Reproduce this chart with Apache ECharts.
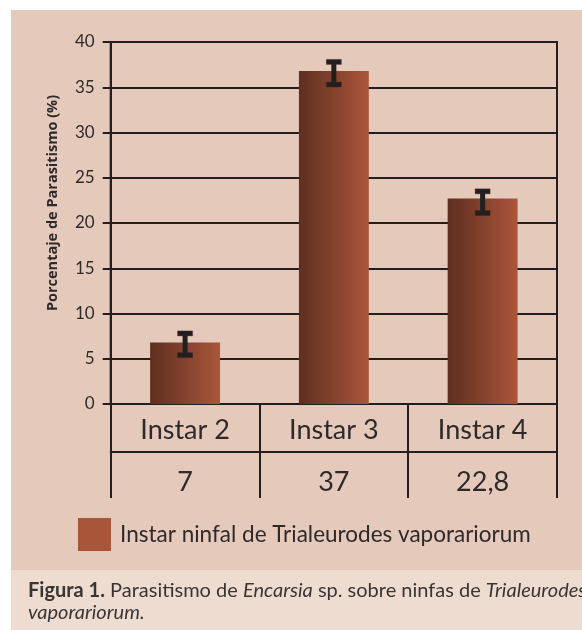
<!DOCTYPE html>
<html>
<head>
<meta charset="utf-8">
<script src="https://cdn.jsdelivr.net/npm/echarts@6/dist/echarts.min.js"></script>
<style>
  html, body { margin: 0; padding: 0; background: #ffffff; }
  #chart { width: 582px; height: 630px; }
</style>
</head>
<body>
<div id="chart"></div>
<script>
var categories = ['Instar 2', 'Instar 3', 'Instar 4'];
var tableValues = ['7', '37', '22,8'];
var parasitism = [6.8, 36.8, 22.7];
var errLow = [5.4, 35.3, 21.1];
var errHigh = [7.8, 37.8, 23.5];
var seriesName = 'Instar ninfal de Trialeurodes vaporariorum';

var ink = '#231f20';
var txt = '#2e2a2a';
var font = 'Lato';
var lineStyle = { color: ink, width: 2 };

var chart = echarts.init(document.getElementById('chart'));

var option = {
    animation: false,
    textStyle: { fontFamily: font },
    graphic: [
        { type: 'rect', z: -100, silent: true, shape: { x: 11, y: 10, width: 571, height: 560 }, style: { fill: '#e5c9bb' } },
        { type: 'rect', z: -100, silent: true, shape: { x: 11, y: 570, width: 571, height: 60 }, style: { fill: '#efdcd0' } },
        // y axis title
        {
            type: 'text', x: 53, y: 203, rotation: Math.PI / 2, silent: true,
            style: {
                text: 'Porcentaje de Parasitismo (%)',
                fontFamily: 'Open Sans', fontSize: 14.5, fontWeight: 'bold', fill: txt,
                align: 'center', verticalAlign: 'middle'
            }
        },
        {
            type: 'text', left: 28, top: 580, silent: true,
            style: {
                text: '{b|Figura 1.} Parasitismo de {i|Encarsia} sp. sobre ninfas de {i|Trialeurodes}\n{i|vaporariorum.}',
                fontFamily: font, fontSize: 20, fill: '#3a3535', lineHeight: 22,
                rich: {
                    b: { fontFamily: font, fontSize: 20, fontWeight: 'bold', fill: '#3a3535', lineHeight: 22 },
                    i: { fontFamily: font, fontSize: 20, fontStyle: 'italic', fill: '#3a3535', lineHeight: 22 }
                }
            }
        }
    ],
    legend: {
        left: 78, top: 518, padding: 0,
        itemWidth: 33, itemHeight: 33,
        icon: 'rect',
        data: [{ name: seriesName, itemStyle: { color: '#a9553a' } }],
        textStyle: { fontFamily: font, fontSize: 22.5, color: txt, padding: [0, 0, 0, 4] }
    },
    grid: {
        left: 110.7, right: 25, top: 42, bottom: 226,
        show: true, borderColor: ink, borderWidth: 2, backgroundColor: 'transparent'
    },
    xAxis: [
        {
            type: 'category',
            data: categories,
            axisLine: { lineStyle: lineStyle },
            axisTick: { show: true, length: 94, lineStyle: lineStyle },
            axisLabel: { fontFamily: font, fontSize: 27, color: txt, margin: 26, verticalAlign: 'middle' }
        },
        {
            type: 'category',
            position: 'bottom',
            offset: 48,
            data: tableValues,
            axisLine: { show: true, lineStyle: lineStyle },
            axisTick: { show: false },
            axisLabel: { fontFamily: font, fontSize: 27, color: txt, margin: 30, verticalAlign: 'middle' }
        }
    ],
    yAxis: {
        type: 'value',
        min: 0, max: 40, interval: 5,
        axisLine: { show: true, lineStyle: lineStyle },
        axisTick: { show: true, length: 8, lineStyle: lineStyle },
        axisLabel: { fontFamily: font, fontSize: 17, color: txt, margin: 16 },
        splitLine: { show: true, lineStyle: lineStyle }
    },
    series: [
        {
            name: seriesName,
            type: 'bar',
            barWidth: '47%',
            data: parasitism,
            itemStyle: {
                color: new echarts.graphic.LinearGradient(0, 0, 1, 0, [
                    { offset: 0, color: '#5e2e1f' },
                    { offset: 1, color: '#ab563b' }
                ])
            },
            z: 3
        },
        {
            name: 'error',
            type: 'custom',
            data: categories.map(function (c, i) { return [i, errLow[i], errHigh[i]]; }),
            encode: { x: 0, y: [1, 2] },
            z: 4,
            renderItem: function (params, api) {
                var lo = api.coord([api.value(0), api.value(1)]);
                var hi = api.coord([api.value(0), api.value(2)]);
                var capW = 15, capH = 5, stem = 5;
                var st = { fill: ink, stroke: 'rgba(60,40,35,0.35)', lineWidth: 1 };
                return {
                    type: 'group',
                    children: [
                        { type: 'rect', shape: { x: lo[0] - stem / 2, y: hi[1], width: stem, height: lo[1] - hi[1] }, style: { fill: ink } },
                        { type: 'rect', shape: { x: hi[0] - capW / 2, y: hi[1] - capH / 2, width: capW, height: capH }, style: st },
                        { type: 'rect', shape: { x: lo[0] - capW / 2, y: lo[1] - capH / 2, width: capW, height: capH }, style: st }
                    ]
                };
            }
        }
    ]
};

chart.setOption(option);
</script>
</body>
</html>
